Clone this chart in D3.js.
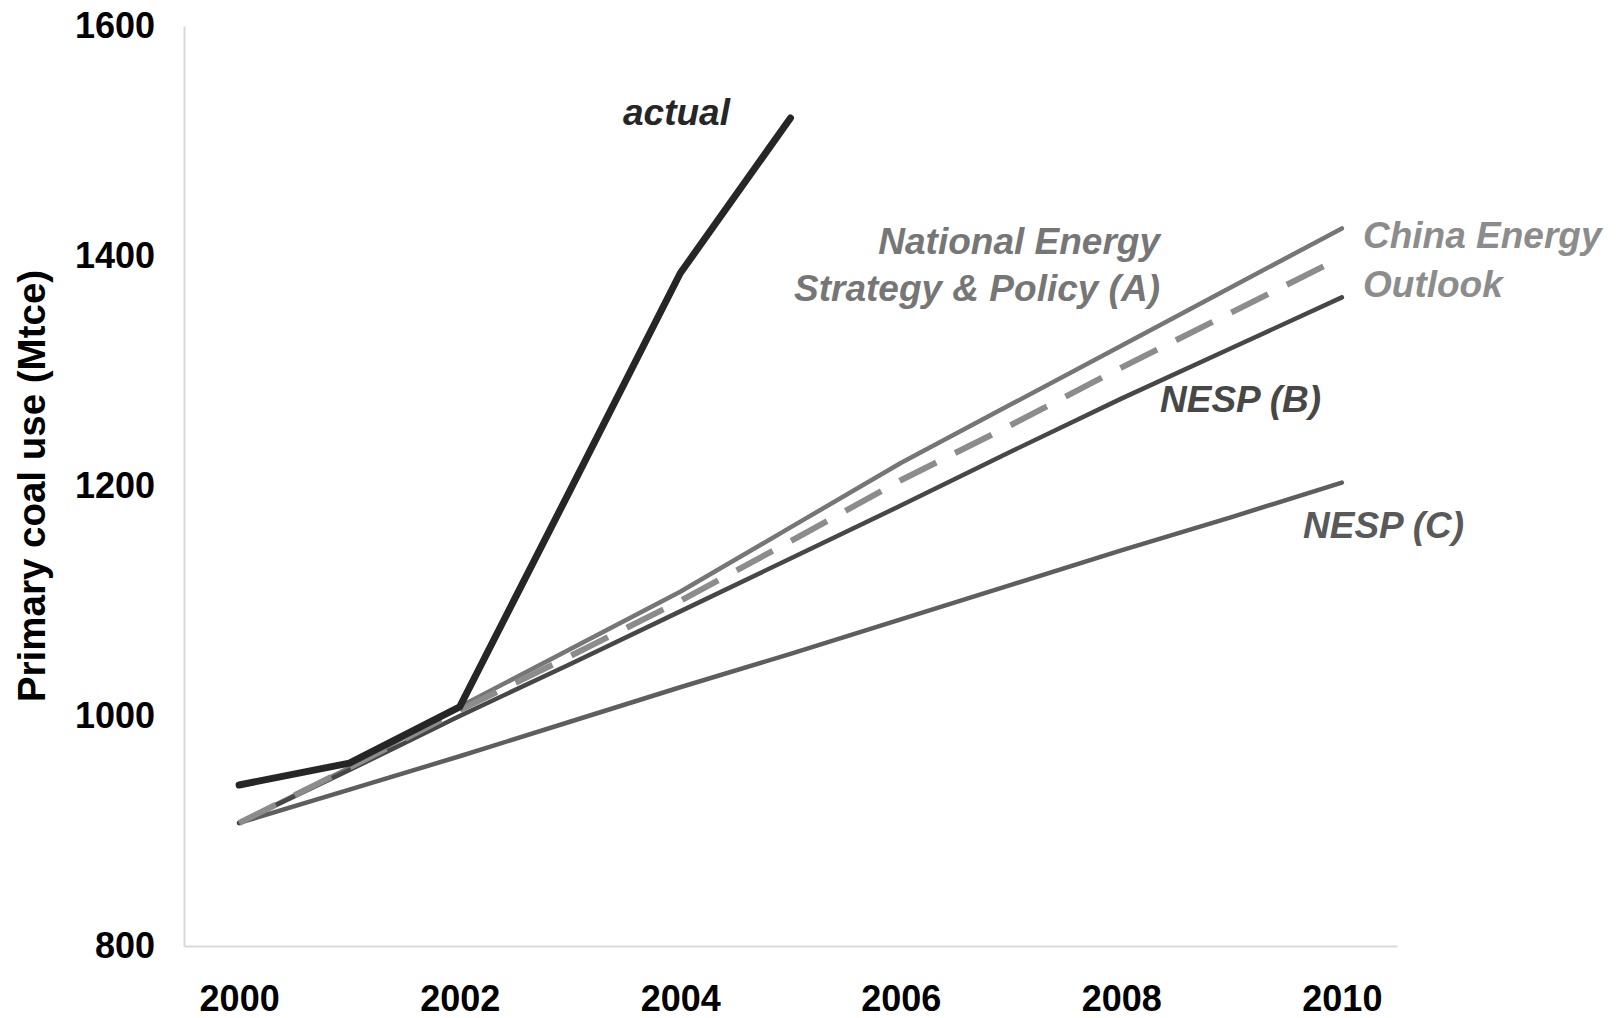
<!DOCTYPE html>
<html>
<head>
<meta charset="utf-8">
<script src="https://cdn.jsdelivr.net/npm/d3@7"></script>
<style>
  body { margin: 0; background: #fff; }
  svg { display: block; font-family: "Liberation Sans", Arial, sans-serif; font-weight: bold; }
  .label { font-style: italic; font-size: 37px; }
</style>
</head>
<body>
<svg class="line-chart" width="1616" height="1018"></svg>
<script>
const years = [2000, 2001, 2002, 2003, 2004, 2005, 2006, 2007, 2008, 2009, 2010];
const yTicks = [800, 1000, 1200, 1400, 1600];
const xTicks = [2000, 2002, 2004, 2006, 2008, 2010];

// Mtce
const actual = [940, 959, 1008, 1196, 1385, 1520];
const nespA = [907, 955, 1008, 1058, 1108, 1164, 1220, 1271, 1322, 1373, 1424];
const chinaOutlook = [907, 955, 1005, 1052, 1100, 1152, 1205, 1253, 1303, 1351, 1399];
const nespB = [907, 953, 1000, 1045, 1091, 1137, 1183, 1230, 1276, 1320, 1364];
const nespC = [907, 936, 965, 995, 1025, 1054, 1084, 1114, 1144, 1173, 1203];

const svg = d3.select('.line-chart');

const margin = { left: 184, top: 26, right: 219, bottom: 72 };
const width = +svg.attr('width') - margin.left - margin.right;
const height = +svg.attr('height') - margin.top - margin.bottom;

const g = svg.append('g')
    .attr('transform', `translate(${margin.left} ${margin.top})`);

const x = d3.scalePoint()
    .domain(years)
    .range([0, width])
    .padding(0.5);

const y = d3.scaleLinear()
    .domain([800, 1600])
    .range([height, 0]);

// axes
const yAxisG = g.append('g')
    .call(d3.axisLeft(y).tickValues(yTicks).tickFormat(d3.format('d')).tickSize(0).tickPadding(29));

const xAxisG = g.append('g')
    .attr('transform', `translate(0, ${height})`)
    .call(d3.axisBottom(x).tickValues(xTicks).tickSize(0).tickPadding(39));

[yAxisG, xAxisG].forEach(ax => {
    ax.select('.domain').attr('stroke', '#d9d9d9').attr('stroke-width', 2);
    ax.selectAll('text')
        .attr('fill', '#000')
        .style('font-size', '36px')
        .style('font-family', '"Liberation Sans", Arial, sans-serif')
        .style('font-weight', 'bold');
});

svg.append('text')
    .attr('transform', `translate(45, 486) rotate(-90)`)
    .attr('text-anchor', 'middle')
    .style('font-size', '38.5px')
    .attr('fill', '#000')
    .text('Primary coal use (Mtce)');

// lines
const series = [
    { values: nespC, color: '#5e5e5e', w: 4.5, dash: null },
    { values: nespA, color: '#767676', w: 4.5, dash: null },
    { values: nespB, color: '#474747', w: 4.5, dash: null },
    { values: chinaOutlook, color: '#8c8c8c', w: 6, dash: '41 21' },
    { values: actual, color: '#262626', w: 7, dash: null }
];

const line = d3.line()
    .x((d, i) => x(years[i]))
    .y(d => y(d));

g.selectAll('path.series')
    .data(series)
    .enter()
    .append('path')
    .attr('class', 'series')
    .attr('d', d => line(d.values))
    .attr('fill', 'none')
    .attr('stroke', d => d.color)
    .attr('stroke-width', d => d.w)
    .attr('stroke-linecap', d => d.dash ? 'butt' : 'round')
    .attr('stroke-linejoin', 'round')
    .attr('stroke-dasharray', d => d.dash);

// series labels
const labels = [
    { text: 'actual', x: 623, y: 125, anchor: 'start', color: '#262626' },
    { text: 'National Energy', x: 1160, y: 254, anchor: 'end', color: '#767676' },
    { text: 'Strategy & Policy (A)', x: 1160, y: 301, anchor: 'end', color: '#767676' },
    { text: 'China Energy', x: 1363, y: 248, anchor: 'start', color: '#8c8c8c' },
    { text: 'Outlook', x: 1363, y: 297, anchor: 'start', color: '#8c8c8c' },
    { text: 'NESP (B)', x: 1160, y: 412, anchor: 'start', color: '#474747' },
    { text: 'NESP (C)', x: 1303, y: 538, anchor: 'start', color: '#595959' }
];

svg.selectAll('text.label')
    .data(labels)
    .enter()
    .append('text')
    .attr('class', 'label')
    .attr('x', d => d.x)
    .attr('y', d => d.y)
    .attr('text-anchor', d => d.anchor)
    .attr('fill', d => d.color)
    .text(d => d.text);
</script>
</body>
</html>
